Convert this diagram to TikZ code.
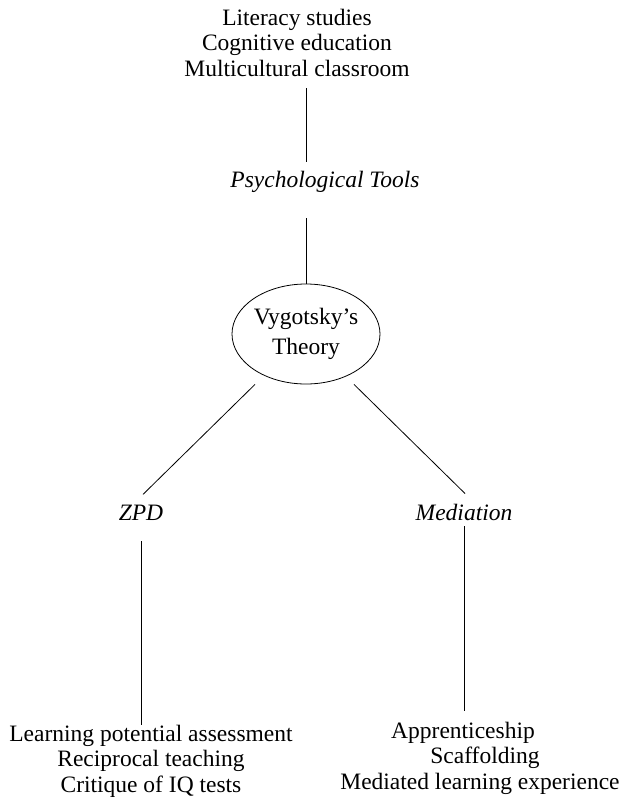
\documentclass[tikz,border=0pt]{standalone}
\usepackage{fontspec}
\setmainfont{Liberation Serif}
\usetikzlibrary{shapes.geometric}

\begin{document}
\begin{tikzpicture}[x=1pt,y=-1pt,
  lbl/.style={inner sep=0pt,align=center,font=\fontsize{23.5}{25.5}\selectfont},
  topic/.style={lbl,font=\fontsize{23.5}{25.5}\selectfont\itshape},
  theorybox/.style={draw,ellipse,line width=0.8pt,inner sep=0pt,minimum width=148pt,minimum height=100pt,align=center,font=\fontsize{23.5}{30}\selectfont},
  link/.style={line width=0.8pt}]
\useasboundingbox[fill=white] (0,0) rectangle (624,801);

\node[lbl,anchor=base] (uses) at (297,76) {Literacy studies\\Cognitive education\\Multicultural classroom};
\node[topic,anchor=base] (tools) at (325,187) {Psychological Tools};
\node[theorybox] (theory) at (306,334) {Vygotsky’s\\Theory};
\node[topic,anchor=base] (zpd) at (141,520) {ZPD};
\node[topic,anchor=base] (med) at (464,520) {Mediation};
\node[lbl,anchor=base] (zpduses) at (151,792) {Learning potential assessment\\Reciprocal teaching\\Critique of IQ tests};
\node[lbl,anchor=base] (meduses) at (480,789) {Apprenticeship\hspace*{34pt}\\\hspace*{10pt}Scaffolding\\Mediated learning experience};

\draw[link,shorten <=12pt,shorten >=8pt] (uses.south -| theory.north) -- (tools.north -| theory.north);
\draw[link,shorten <=26pt] (tools.south -| theory.north) -- (theory.north);
\draw[link] ([xshift=-51pt]theory.south) -- ([shift={(2pt,10pt)}]zpd.north);
\draw[link] ([xshift=48pt]theory.south) -- ([shift={(1pt,10pt)}]med.north);
\draw[link,shorten <=21pt] (zpd.south) -- (zpd.south |- zpduses.north);
\draw[link,shorten <=6pt,shorten >=11pt] (med.south) -- (med.south |- meduses.north);

\end{tikzpicture}
\end{document}
